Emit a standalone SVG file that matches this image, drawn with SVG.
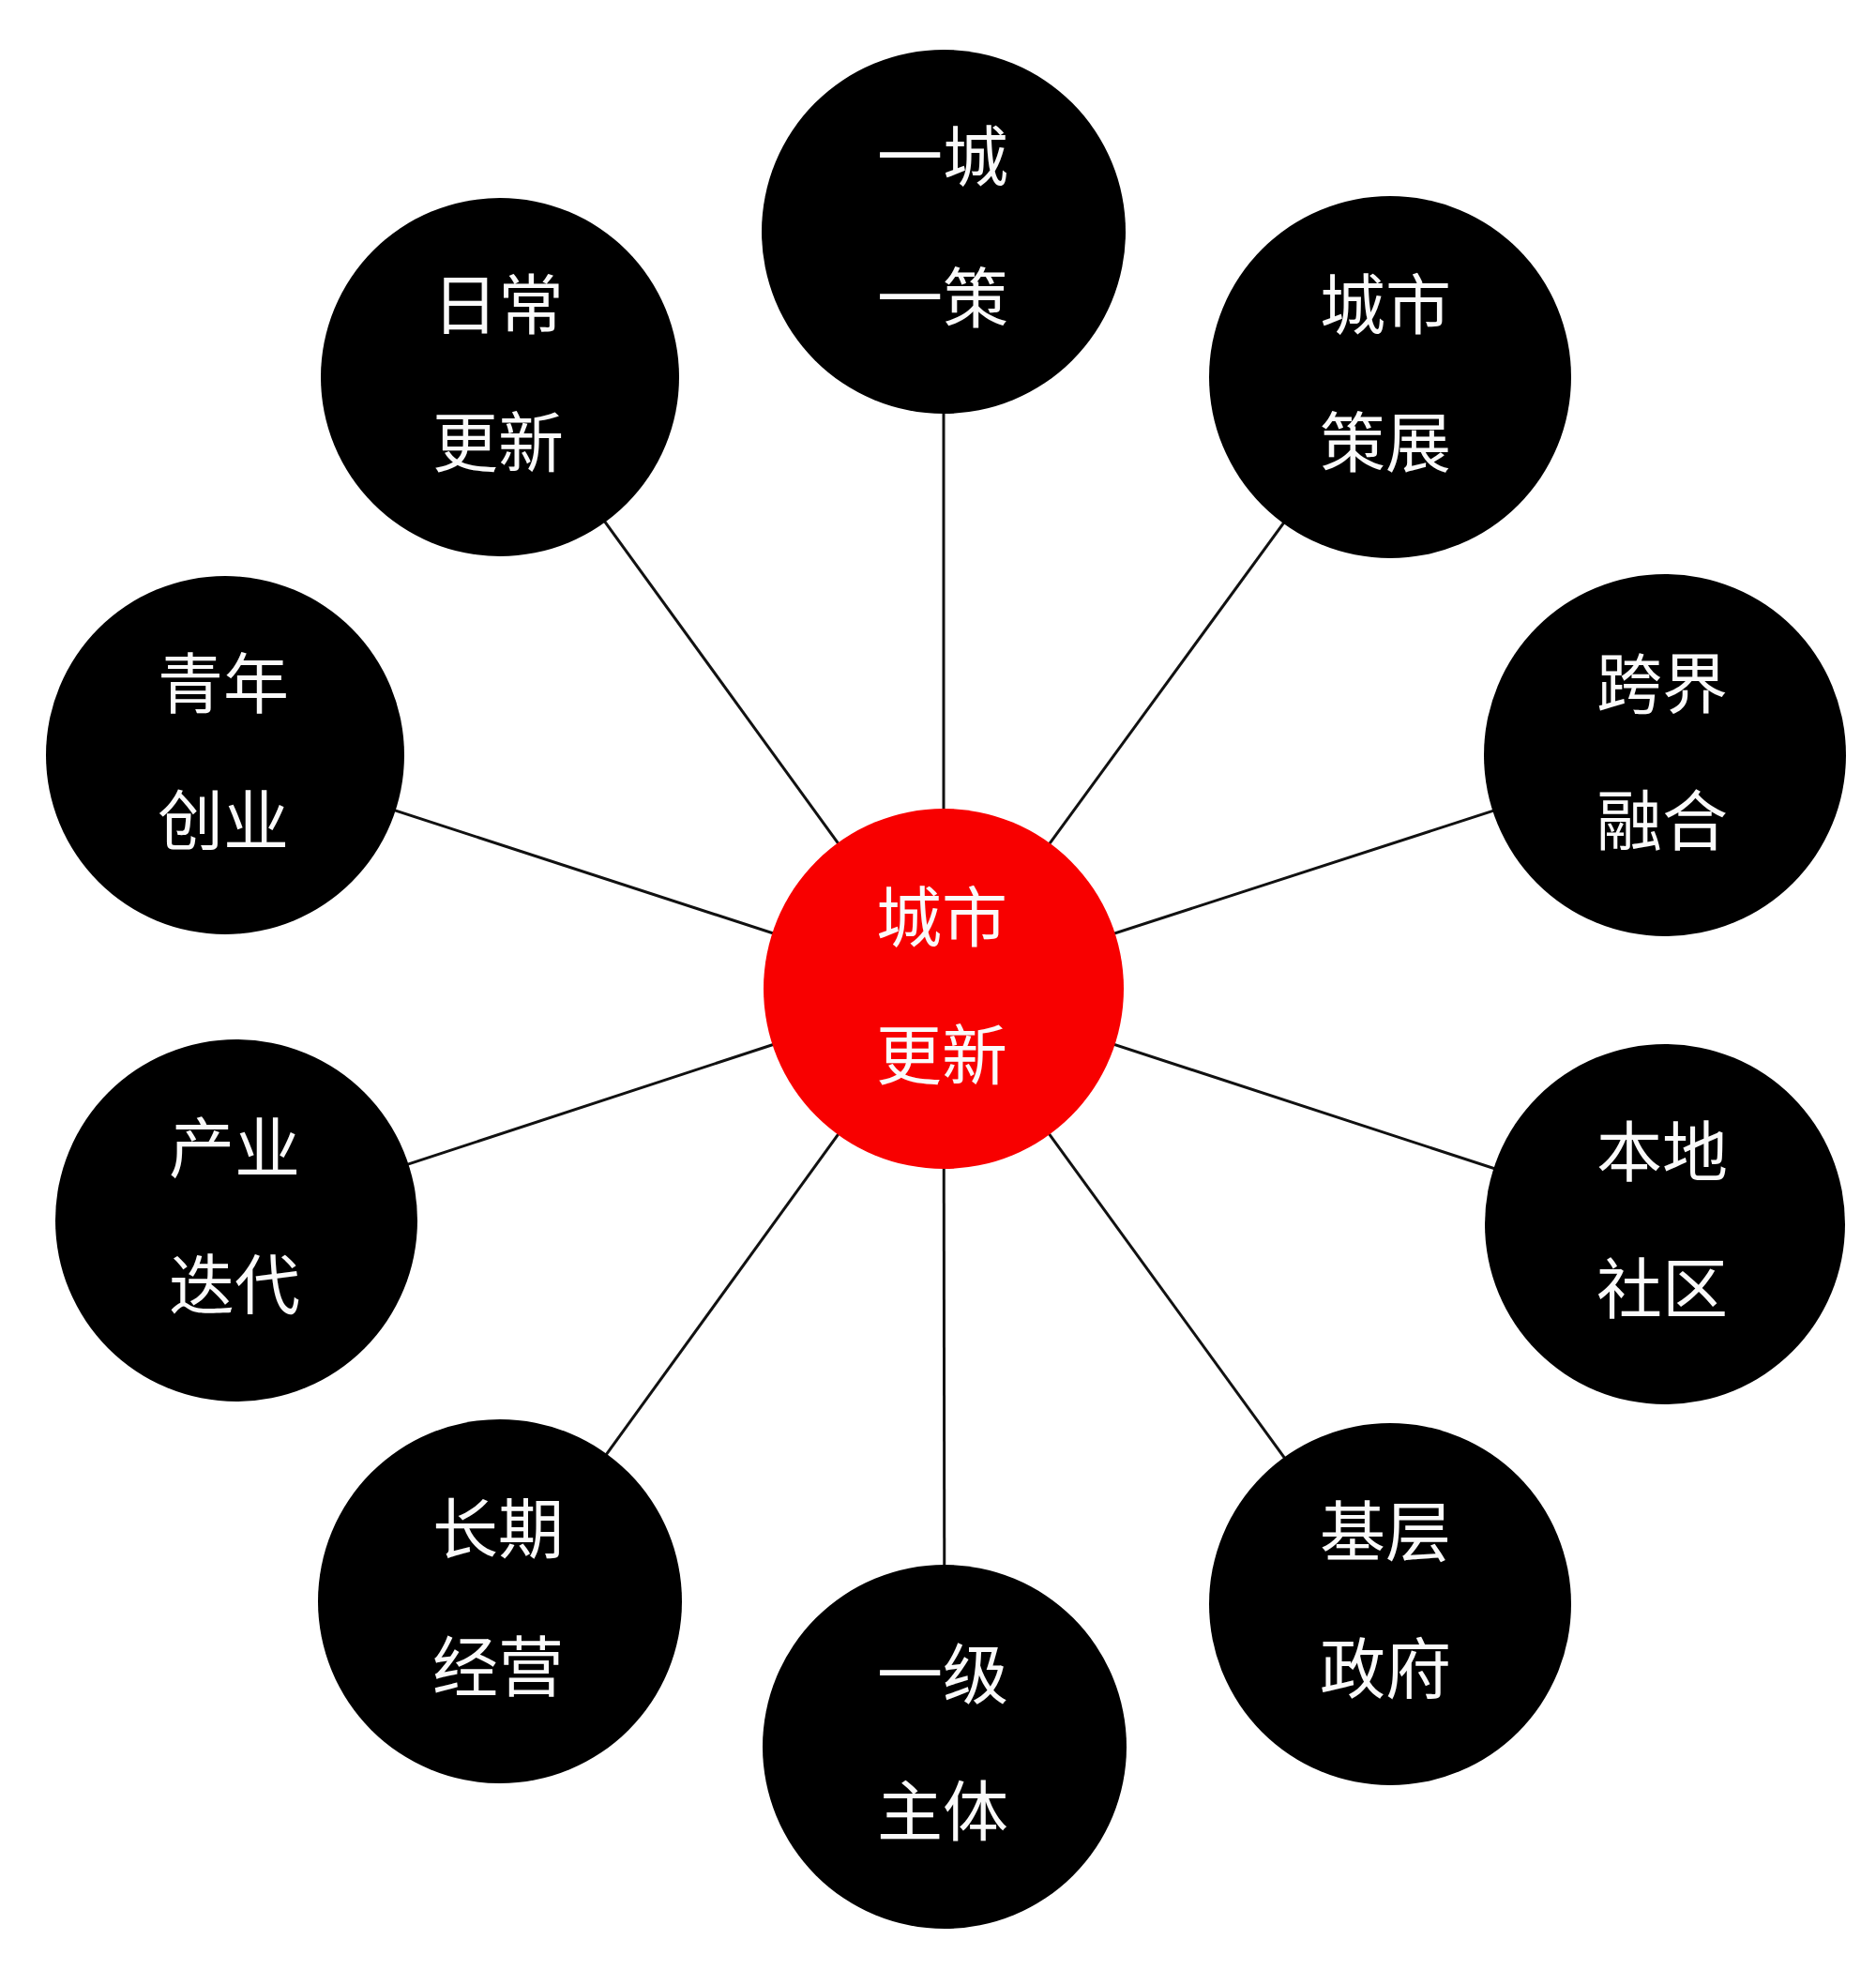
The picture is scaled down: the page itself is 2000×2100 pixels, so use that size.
<svg xmlns="http://www.w3.org/2000/svg" width="2000" height="2100" viewBox="0 0 2000 2100">
<style>
.edge{stroke:#111;stroke-width:3;fill:none}
.node{fill:#000}
.hub{fill:#f80000}
.lbl{font-family:"Noto Sans CJK SC","Noto Sans",sans-serif;font-size:70px;fill:#fafafa;text-anchor:middle}
</style>
<rect width="2000" height="2100" fill="#fff"/>
<g id="connectors">
<line class="edge" x1="1006" y1="1054" x2="1006" y2="247"/>
<line class="edge" x1="1006" y1="1054" x2="533" y2="402"/>
<line class="edge" x1="1006" y1="1054" x2="1482" y2="402"/>
<line class="edge" x1="1006" y1="1054" x2="240" y2="805"/>
<line class="edge" x1="1006" y1="1054" x2="1775" y2="805"/>
<line class="edge" x1="1006" y1="1054" x2="252" y2="1301"/>
<line class="edge" x1="1006" y1="1054" x2="1775" y2="1305"/>
<line class="edge" x1="1006" y1="1054" x2="533" y2="1707"/>
<line class="edge" x1="1006" y1="1054" x2="1482" y2="1709"/>
<line class="edge" x1="1006" y1="1054" x2="1007" y2="1862"/>
</g>
<g id="hub">
<circle class="hub" cx="1006" cy="1054" r="192"/>
<text class="lbl" x="1004" y="1004">城市</text>
<text class="lbl" x="1004" y="1151">更新</text>
</g>
<g id="n-yicheng">
<circle class="node" cx="1006" cy="247" r="194"/>
<text class="lbl" x="1005" y="193">一城</text>
<text class="lbl" x="1005" y="344">一策</text>
</g>
<g id="n-richang">
<circle class="node" cx="533" cy="402" r="191"/>
<text class="lbl" x="531" y="351">日常</text>
<text class="lbl" x="531" y="498">更新</text>
</g>
<g id="n-cezhan">
<circle class="node" cx="1482" cy="402" r="193"/>
<text class="lbl" x="1477" y="351">城市</text>
<text class="lbl" x="1477" y="498">策展</text>
</g>
<g id="n-qingnian">
<circle class="node" cx="240" cy="805" r="191"/>
<text class="lbl" x="238" y="755">青年</text>
<text class="lbl" x="238" y="901">创业</text>
</g>
<g id="n-kuajie">
<circle class="node" cx="1775" cy="805" r="193"/>
<text class="lbl" x="1772" y="755">跨界</text>
<text class="lbl" x="1772" y="901">融合</text>
</g>
<g id="n-chanye">
<circle class="node" cx="252" cy="1301" r="193"/>
<text class="lbl" x="250" y="1250">产业</text>
<text class="lbl" x="250" y="1396">迭代</text>
</g>
<g id="n-bendi">
<circle class="node" cx="1775" cy="1305" r="192"/>
<text class="lbl" x="1772" y="1254">本地</text>
<text class="lbl" x="1772" y="1400">社区</text>
</g>
<g id="n-changqi">
<circle class="node" cx="533" cy="1707" r="194"/>
<text class="lbl" x="531" y="1656">长期</text>
<text class="lbl" x="531" y="1803">经营</text>
</g>
<g id="n-jiceng">
<circle class="node" cx="1482" cy="1710" r="193"/>
<text class="lbl" x="1477" y="1659">基层</text>
<text class="lbl" x="1477" y="1805">政府</text>
</g>
<g id="n-yiji">
<circle class="node" cx="1007" cy="1862" r="194"/>
<text class="lbl" x="1005" y="1811">一级</text>
<text class="lbl" x="1005" y="1957">主体</text>
</g>
</svg>
